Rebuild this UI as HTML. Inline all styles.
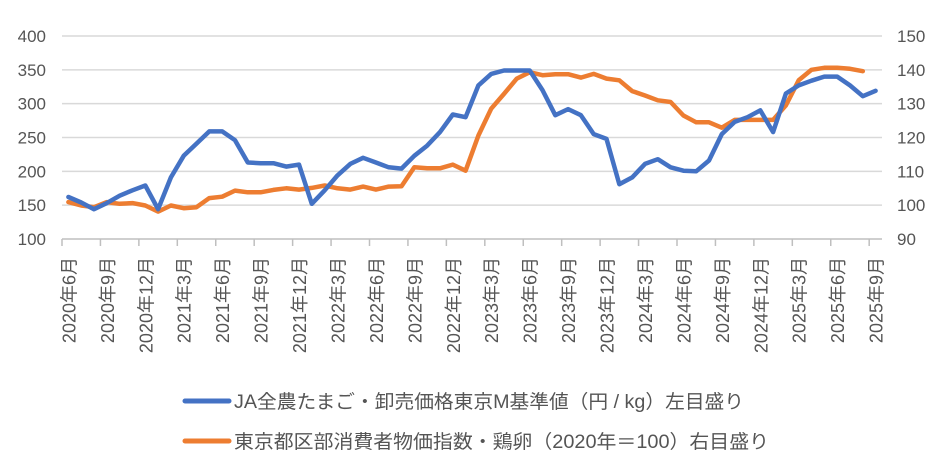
<!DOCTYPE html>
<html><head><meta charset="utf-8"><style>
body{margin:0;background:#fff;}
svg text{font-family:"Liberation Sans","Noto Sans CJK JP",sans-serif;fill:#555;}
</style></head><body>
<svg width="948" height="470" xmlns="http://www.w3.org/2000/svg">
<g id="grid"></g>
<g id="yl"></g>
<g id="yr"></g>
<g id="xa"></g>
<g id="series"></g>
<g>
<line x1="185" y1="401" x2="229" y2="401" stroke="#4472C4" stroke-width="5" stroke-linecap="round"/>
<text x="234" y="408" font-size="19" textLength="510" lengthAdjust="spacingAndGlyphs">JA全農たまご・卸売価格東京M基準値（円 / kg）左目盛り</text>
<line x1="185" y1="441" x2="229" y2="441" stroke="#ED7D31" stroke-width="5" stroke-linecap="round"/>
<text x="234" y="448" font-size="19" textLength="535" lengthAdjust="spacingAndGlyphs">東京都区部消費者物価指数・鶏卵（2020年＝100）右目盛り</text>
</g>
</svg>
<script>
const months=[];
for(let y=2020,m=6;months.length<64;){months.push(y+'年'+m+'月');m++;if(m>12){m=1;y++;}}
const blueValues=[162,154,144,153,164,172,179,144,191,223,241,259,259,246,213,212,212,207,210,152,172,194,211,220,213,206,204,223,238,258,284,280,327,344,349,349,349,320,283,292,283,255,248,181,191,211,218,206,201,200,216,255,273,280,290,258,315,327,334,340,340,327,311,319];
const orangeValues=[100.9,99.9,99.4,100.9,100.4,100.6,99.9,98.1,99.9,99.1,99.4,102.1,102.5,104.3,103.8,103.8,104.5,105.0,104.6,105.1,105.8,105.0,104.6,105.5,104.6,105.5,105.6,111.2,110.9,110.9,112.0,110.2,120.6,128.5,132.9,137.4,139.3,138.4,138.7,138.7,137.7,138.8,137.4,136.9,133.7,132.4,131.0,130.5,126.5,124.5,124.5,122.9,125.2,125.2,125.2,125.2,129.5,136.9,140.0,140.6,140.6,140.3,139.6,null];
const leftTicks=[100,150,200,250,300,350,400];
const rightTicks=[90,100,110,120,130,140,150];
const NS='http://www.w3.org/2000/svg';
const X0=62,X1=882,YT=36,YB=239;
const bw=(X1-X0)/months.length;
const xc=i=>X0+bw*(i+0.5);
const yL=v=>YB-(v-100)/300*(YB-YT);
const yR=v=>YB-(v-90)/60*(YB-YT);
function mk(t,a,p){const e=document.createElementNS(NS,t);for(const k in a)e.setAttribute(k,a[k]);p.appendChild(e);return e;}
const grid=document.getElementById('grid'),yl=document.getElementById('yl'),yr=document.getElementById('yr'),xa=document.getElementById('xa'),ser=document.getElementById('series');
leftTicks.forEach(v=>{
 const l=mk('line',{x1:X0,x2:X1,y1:yL(v),y2:yL(v),stroke:v===100?'#bfbfbf':'#d9d9d9','stroke-width':1.5},grid);
 
 
 const t=mk('text',{x:46,y:yL(v)+6,'text-anchor':'end','font-size':17},yl);t.textContent=v;
 
 
});
rightTicks.forEach(v=>{
 const t=mk('text',{x:897,y:yR(v)+6,'font-size':17},yr);t.textContent=v;
 
 
});
for(let i=0;i<months.length;i+=3){
 const tx=X0+bw*i;
 const tk=mk('line',{x1:tx,x2:tx,y1:YB,y2:YB+7,stroke:'#bfbfbf','stroke-width':1.5},xa);
 
 
 const cx=xc(i)+7;
 const t=mk('text',{x:0,y:0,'text-anchor':'end','font-size':18,transform:`translate(${cx},257) rotate(-90)`},xa);
 t.textContent=months[i];
 
 
}
function line(vals,fy,color,name){
 let d='';vals.forEach((v,i)=>{if(v==null)return;d+=(d?'L':'M')+xc(i).toFixed(1)+' '+fy(v).toFixed(1);});
 const p=mk('path',{d:d,fill:'none',stroke:color,'stroke-width':4.5,'stroke-linejoin':'round','stroke-linecap':'round'},ser);
 
 
}
line(orangeValues,yR,'#ED7D31','cpi-egg-line');
line(blueValues,yL,'#4472C4','ja-wholesale-price-line');
</script>
</body></html>
